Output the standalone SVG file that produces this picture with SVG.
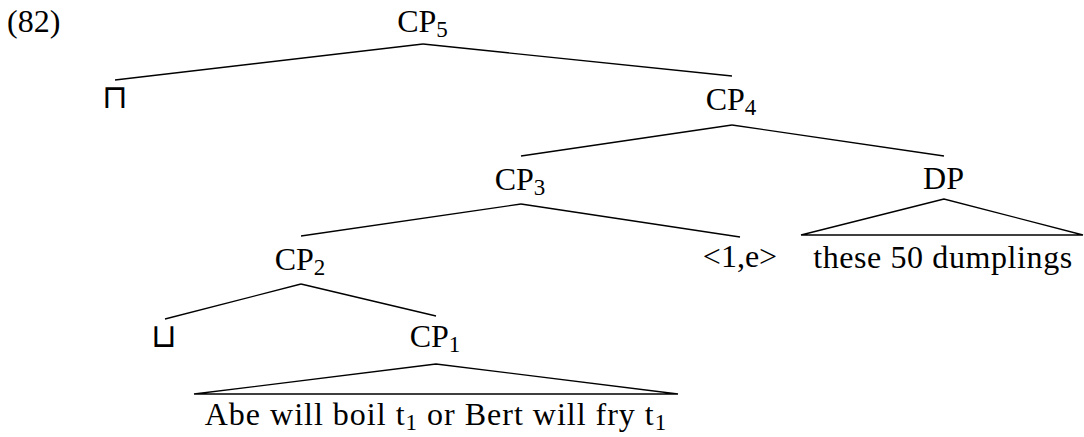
<svg xmlns="http://www.w3.org/2000/svg" width="1084" height="437" viewBox="0 0 1084 437">
<style>
text { font-family: "Liberation Serif", "Times New Roman", serif; font-size: 32px; fill: #000; }
.lbl { text-anchor: middle; }
.sub { font-size: 23px; }
.sym { font-family: "DejaVu Sans ExtraLight", "DejaVu Sans", sans-serif; font-weight: 200; font-size: 33px; text-anchor: middle; }
.edge { stroke: #000; stroke-width: 1.3; fill: none; }
</style>
<rect width="1084" height="437" fill="#fff"/>
<text x="7" y="32">(82)</text>
<g id="connectors">
<line class="edge" x1="423" y1="44" x2="115" y2="80"/>
<line class="edge" x1="423" y1="44" x2="732" y2="76"/>
<line class="edge" x1="732" y1="125" x2="521" y2="156"/>
<line class="edge" x1="732" y1="125" x2="944" y2="156"/>
<line class="edge" x1="521" y1="204" x2="301" y2="236"/>
<line class="edge" x1="521" y1="204" x2="740" y2="237"/>
<polygon class="edge" points="944,199 801,235 1083,235"/>
<line class="edge" x1="301" y1="284" x2="165" y2="319"/>
<line class="edge" x1="301" y1="284" x2="436" y2="316"/>
<polygon class="edge" points="436,364 194,394 678,394"/>
</g>
<g id="cp5"><text class="lbl" x="422.5" y="32">CP<tspan class="sub" dy="5">5</tspan></text></g>
<g id="meet"><text class="sym" x="115" y="108">⊓</text></g>
<g id="cp4"><text class="lbl" x="731" y="110">CP<tspan class="sub" dy="5">4</tspan></text></g>
<g id="cp3"><text class="lbl" x="520" y="190">CP<tspan class="sub" dy="5">3</tspan></text></g>
<g id="dp"><text class="lbl" x="943.5" y="189">DP</text></g>
<g id="dp-yield"><text class="lbl" x="943" y="268" letter-spacing="0.6">these 50 dumplings</text></g>
<g id="cp2"><text class="lbl" x="300" y="270">CP<tspan class="sub" dy="5">2</tspan></text></g>
<g id="index"><text class="lbl" x="740" y="267">&lt;1,e&gt;</text></g>
<g id="join"><text class="sym" x="164" y="347">⊔</text></g>
<g id="cp1"><text class="lbl" x="435" y="347">CP<tspan class="sub" dy="5">1</tspan></text></g>
<g id="cp1-yield"><text class="lbl" x="436" y="425" letter-spacing="1">Abe will boil t<tspan class="sub" dy="5">1</tspan><tspan dy="-5"> or Bert will fry t</tspan><tspan class="sub" dy="5">1</tspan></text></g>
</svg>
